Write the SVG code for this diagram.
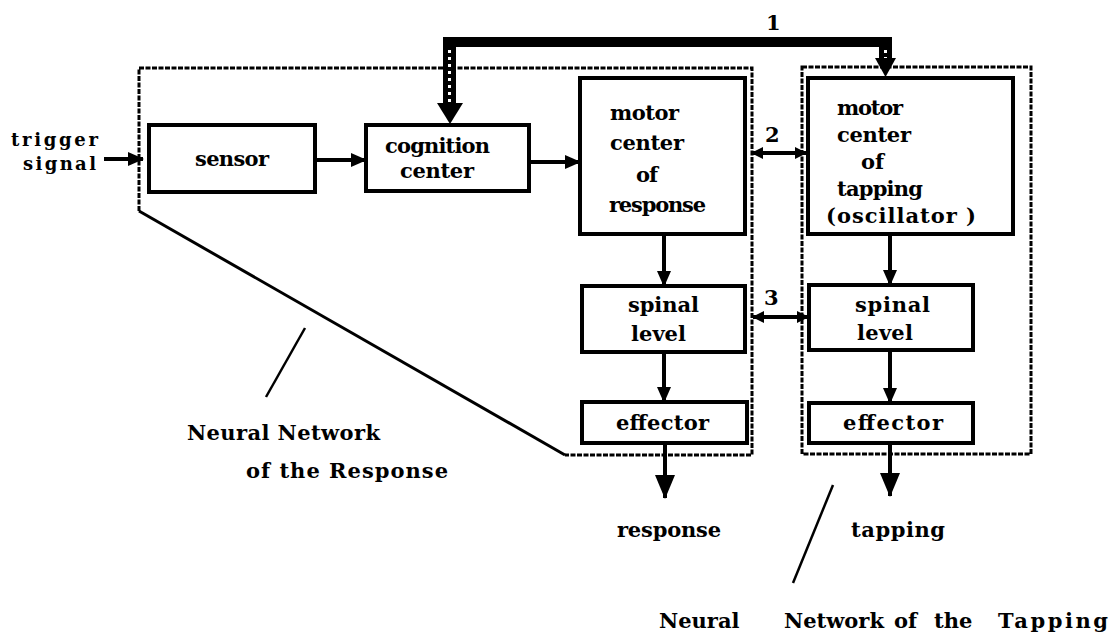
<svg xmlns="http://www.w3.org/2000/svg" width="1114" height="639" viewBox="0 0 1114 639">
<style>
  .box{fill:#fff;stroke:#000;stroke-width:4}
  .t{font-family:"DejaVu Serif","Liberation Serif",serif;font-weight:bold;font-size:21px;fill:#000}
  .ts{font-family:"DejaVu Serif","Liberation Serif",serif;font-weight:bold;font-size:18px;fill:#000}
  .tb{font-family:"DejaVu Serif","Liberation Serif",serif;font-weight:bold;font-size:21px;fill:#000}
  .ln{stroke:#000;stroke-width:4;fill:none}
  .dash{stroke:#000;stroke-width:3;fill:none;stroke-dasharray:5 1.5}
  .solid{stroke:#000;stroke-width:3;fill:none}
  .ptr{stroke:#000;stroke-width:2.5;fill:none}
</style>
<defs>
  <marker id="ah" markerUnits="userSpaceOnUse" markerWidth="16" markerHeight="14" refX="15" refY="7" orient="auto">
    <path d="M0,0 L16,7 L0,14 Z" fill="#000"/>
  </marker>
  <marker id="ahB" markerUnits="userSpaceOnUse" markerWidth="24" markerHeight="20" refX="23" refY="10" orient="auto">
    <path d="M0,0 L24,10 L0,20 Z" fill="#000"/>
  </marker>
  <marker id="ahS" markerUnits="userSpaceOnUse" markerWidth="12" markerHeight="12" refX="11" refY="6" orient="auto-start-reverse">
    <path d="M0,0 L12,6 L0,12 Z" fill="#000"/>
  </marker>
</defs>
<rect width="1114" height="639" fill="#fff"/>

<g id="region-response">
  <path class="dash" d="M139,211 V68 H752 V455 H565"/>
  <path class="solid" d="M565,455 L139,211"/>
</g>
<g id="region-tapping">
  <rect class="dash" x="802" y="67" width="229" height="387"/>
</g>

<g id="trigger-signal">
  <text class="ts" x="11" y="146" textLength="87" lengthAdjust="spacing">trigger</text>
  <text class="ts" x="23" y="170" textLength="73" lengthAdjust="spacing">signal</text>
</g>

<g id="sensor">
  <rect class="box" x="149" y="125" width="166" height="67"/>
  <text class="t" x="195" y="166" textLength="74" lengthAdjust="spacing">sensor</text>
</g>
<g id="cognition-center">
  <rect class="box" x="366" y="125" width="163" height="66"/>
  <text class="t" x="385" y="153" textLength="105" lengthAdjust="spacing">cognition</text>
  <text class="t" x="400" y="178" textLength="74" lengthAdjust="spacing">center</text>
</g>
<g id="motor-center-response">
  <rect class="box" x="580" y="78" width="165" height="156"/>
  <text class="t" x="610" y="120" textLength="69" lengthAdjust="spacing">motor</text>
  <text class="t" x="610" y="150" textLength="74" lengthAdjust="spacing">center</text>
  <text class="t" x="636" y="182" textLength="22" lengthAdjust="spacing">of</text>
  <text class="t" x="609" y="212" textLength="97" lengthAdjust="spacing">response</text>
</g>
<g id="motor-center-tapping">
  <rect class="box" x="808" y="78" width="205" height="156"/>
  <text class="t" x="837" y="115" textLength="66" lengthAdjust="spacing">motor</text>
  <text class="t" x="837" y="142" textLength="74" lengthAdjust="spacing">center</text>
  <text class="t" x="861" y="169" textLength="23" lengthAdjust="spacing">of</text>
  <text class="t" x="837" y="196" textLength="86" lengthAdjust="spacing">tapping</text>
  <text class="t" x="826" y="223" textLength="150" lengthAdjust="spacing">(oscillator )</text>
</g>
<g id="spinal-level-response">
  <rect class="box" x="582" y="286" width="163" height="66"/>
  <text class="t" x="628" y="312" textLength="71" lengthAdjust="spacing">spinal</text>
  <text class="t" x="631" y="341" textLength="55" lengthAdjust="spacing">level</text>
</g>
<g id="spinal-level-tapping">
  <rect class="box" x="809" y="285" width="164" height="65"/>
  <text class="t" x="855" y="312" textLength="75" lengthAdjust="spacing">spinal</text>
  <text class="t" x="857" y="340" textLength="56" lengthAdjust="spacing">level</text>
</g>
<g id="effector-response">
  <rect class="box" x="582" y="402" width="165" height="41"/>
  <text class="t" x="616" y="430" textLength="93" lengthAdjust="spacing">effector</text>
</g>
<g id="effector-tapping">
  <rect class="box" x="809" y="403" width="164" height="40"/>
  <text class="t" x="843" y="430" textLength="100" lengthAdjust="spacing">effector</text>
</g>

<g id="connectors">
  <line class="ln" x1="104" y1="159" x2="143" y2="159" marker-end="url(#ah)"/>
  <line class="ln" x1="315" y1="160" x2="366" y2="160" marker-end="url(#ah)"/>
  <line class="ln" x1="529" y1="162" x2="580" y2="162" marker-end="url(#ah)"/>
  <line class="ln" x1="664" y1="234" x2="664" y2="286" marker-end="url(#ah)"/>
  <line class="ln" x1="664" y1="352" x2="664" y2="402" marker-end="url(#ah)"/>
  <line class="ln" x1="665" y1="443" x2="665" y2="498" marker-end="url(#ahB)"/>
  <line class="ln" x1="890" y1="234" x2="890" y2="285" marker-end="url(#ah)"/>
  <line class="ln" x1="890" y1="350" x2="890" y2="403" marker-end="url(#ah)"/>
  <line class="ln" x1="890" y1="443" x2="890" y2="496" marker-end="url(#ahB)"/>
  <line class="ln" x1="752" y1="153" x2="806" y2="153" marker-start="url(#ahS)" marker-end="url(#ahS)"/>
  <line class="ln" x1="753" y1="317" x2="808" y2="317" marker-start="url(#ahS)" marker-end="url(#ahS)"/>
  <g id="pathway-1">
    <rect x="443" y="37" width="449" height="10" fill="#000"/>
    <rect x="443" y="37" width="13" height="68" fill="#000"/>
    <line x1="449.5" y1="50" x2="449.5" y2="104" stroke="#fff" stroke-width="3" stroke-dasharray="3 4"/>
    <polygon points="437,103 463,103 450,124" fill="#000"/>
    <rect x="879" y="37" width="13" height="22" fill="#000"/>
    <line x1="885.5" y1="50" x2="885.5" y2="60" stroke="#fff" stroke-width="3" stroke-dasharray="3 4"/>
    <polygon points="875,58 896,58 885.5,77" fill="#000"/>
  </g>
</g>

<g id="labels">
  <text class="t" x="766" y="30">1</text>
  <text class="t" x="765" y="142">2</text>
  <text class="t" x="764" y="305">3</text>
  <text class="tb" x="617" y="537" textLength="104" lengthAdjust="spacing">response</text>
  <text class="tb" x="851" y="537" textLength="94" lengthAdjust="spacing">tapping</text>
  <text class="tb" x="187" y="440" textLength="193" lengthAdjust="spacing">Neural Network</text>
  <text class="tb" x="246" y="478" textLength="202" lengthAdjust="spacing">of  the  Response</text>
  <text class="tb" y="628"><tspan x="659">Neural</tspan><tspan x="784">Network</tspan><tspan x="894">of</tspan><tspan x="934">the</tspan><tspan x="998" textLength="110" lengthAdjust="spacing">Tapping</tspan></text>
  <line class="ptr" x1="305" y1="328" x2="266" y2="397"/>
  <line class="ptr" x1="833" y1="485" x2="793" y2="583"/>
</g>
</svg>
